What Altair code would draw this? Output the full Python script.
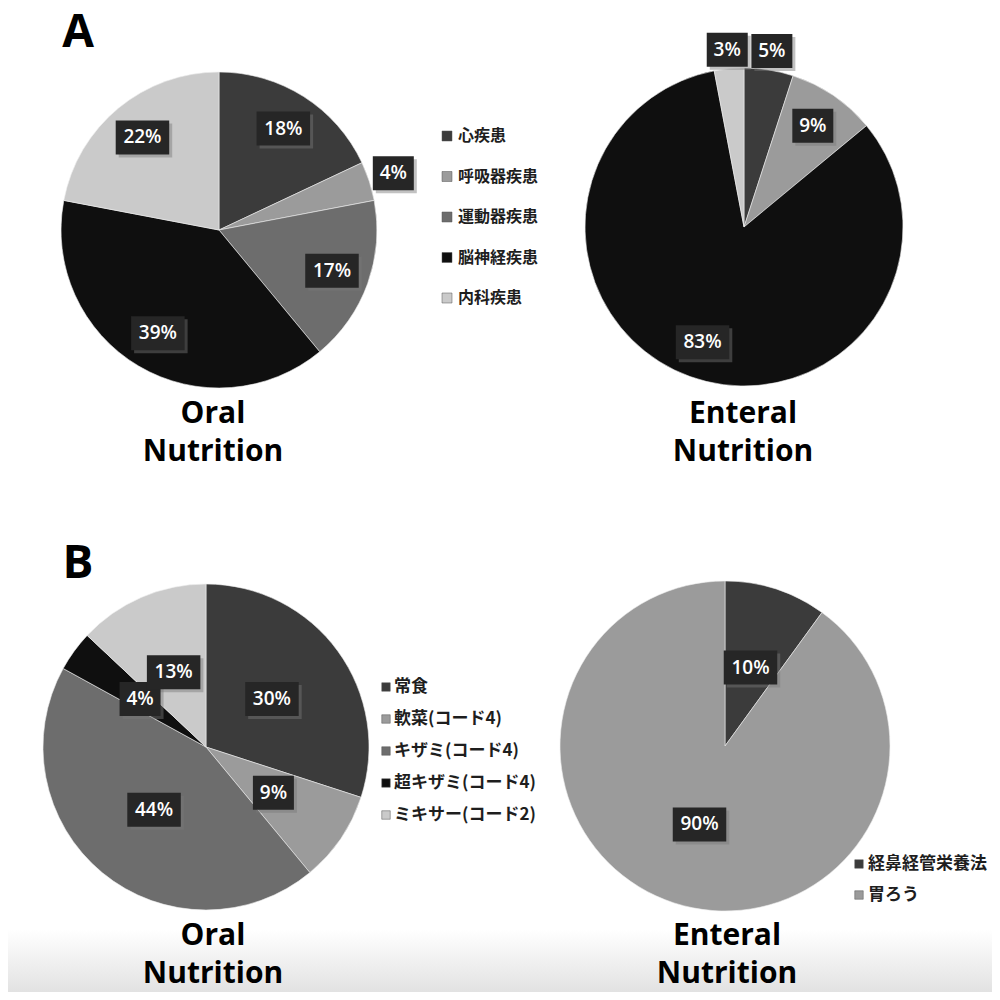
import math
import altair as alt
import pandas as pd

# ---------------- data ----------------
a_cats = ["心疾患", "呼吸器疾患", "運動器疾患", "脳神経疾患", "内科疾患"]
a_oral = [18, 4, 17, 39, 22]
a_enteral = [5, 9, 0, 83, 3]

b_oral_cats = ["常食", "軟菜(コード4)", "キザミ(コード4)", "超キザミ(コード4)", "ミキサー(コード2)"]
b_oral = [30, 9, 44, 4, 13]

b_ent_cats = ["経鼻経管栄養法", "胃ろう"]
b_enteral = [10, 90]

titles = [["Oral", "Nutrition"], ["Enteral", "Nutrition"], ["Oral", "Nutrition"], ["Enteral", "Nutrition"]]
panel_letters = ["A", "B"]

# ---------------- styles ----------------
five_greys = ["#3b3b3b", "#9b9b9b", "#6d6d6d", "#0f0f0f", "#cacaca"]
two_greys = ["#3b3b3b", "#9b9b9b"]

OFF = 8  # page margin
W = H = 984

# pie layout (screen coords): cx, cy, r, inner label radius frac, outer frac, outside threshold
pies = [
    dict(cats=a_cats, vals=a_oral, cols=five_greys, cx=219, cy=230, r=158, rin=0.76, rout=1.16, th=5),
    dict(cats=a_cats, vals=a_enteral, cols=five_greys, cx=744, cy=227, r=159, rin=0.77, rout=1.12, th=5),
    dict(cats=b_oral_cats, vals=b_oral, cols=five_greys, cx=206, cy=747, r=163, rin=0.5, rout=0.5, th=0),
    dict(cats=b_ent_cats, vals=b_enteral, cols=two_greys, cx=725, cy=746, r=165, rin=0.5, rout=0.5, th=0),
]
title_pos = [(213, 423), (743, 423), (213, 945), (727, 945)]
title_lh = 38
letter_pos = [(78, 47), (78, 578)]

legends = [
    dict(cats=a_cats, cols=five_greys, sx=447, tx=458, y0=136, dy=40.5, size=100, fs=16),
    dict(cats=b_oral_cats, cols=five_greys, sx=386, tx=394, y0=687, dy=32, size=72, fs=17),
    dict(cats=b_ent_cats, cols=two_greys, sx=859, tx=868, y0=864, dy=31, size=72, fs=17),
]

XS = alt.Scale(domain=[0, W], range=[0, W])
YS = alt.Scale(domain=[0, H], range=[0, H])


def X(f):
    return alt.X(f"{f}:Q", scale=XS, axis=None)


def Y(f):
    return alt.Y(f"{f}:Q", scale=YS, axis=None)


layers = []

# bottom background gradient
grad = alt.LinearGradient(
    gradient="linear", x1=0, x2=0, y1=0, y2=1,
    stops=[alt.GradientStop(color="#ffffff", offset=0), alt.GradientStop(color="#e2e2e2", offset=1)],
)
layers.append(
    alt.Chart(pd.DataFrame({"a": [0]})).mark_rect(color=grad).encode(
        x=alt.value(0), x2=alt.value(W), y=alt.value(930 - OFF), y2=alt.value(H)
    )
)

label_rows = []
for p in pies:
    rows = []
    for i, (c, v, col) in enumerate(zip(p["cats"], p["vals"], p["cols"])):
        if v > 0:
            rows.append({"cat": c, "val": v, "color": col, "idx": i})
    df = pd.DataFrame(rows)
    layers.append(
        alt.Chart(df).mark_arc(outerRadius=p["r"], stroke="#eeeeee", strokeWidth=0.6).encode(
            theta=alt.Theta("val:Q", stack=True, scale=alt.Scale(domain=[0, 100])),
            order=alt.Order("idx:Q", sort="ascending"),
            color=alt.Color("color:N", scale=None),
            x=alt.value(p["cx"] - OFF),
            y=alt.value(p["cy"] - OFF),
        )
    )
    total = float(sum(p["vals"]))
    cum = 0.0
    for r_ in rows:
        v = r_["val"]
        a = (cum + v / 2) / total * 2 * math.pi
        cum += v
        frac = p["rout"] if v <= p["th"] else p["rin"]
        R = p["r"] * frac
        x = p["cx"] + R * math.sin(a) - OFF
        y = p["cy"] - R * math.cos(a) - OFF
        txt = f"{v}%"
        w = 16 + 12.5 * len(txt)
        h = 34
        label_rows.append({"x": x, "y": y, "txt": txt,
                           "x1": x - w / 2, "x2": x + w / 2, "y1": y - h / 2, "y2": y + h / 2,
                           "sx1": x - w / 2 + 3, "sx2": x + w / 2 + 3, "sy1": y - h / 2 + 3, "sy2": y + h / 2 + 3})

ldf = pd.DataFrame(label_rows)
layers.append(
    alt.Chart(ldf).mark_rect(color="#777777", opacity=0.45).encode(
        x=X("sx1"), x2="sx2", y=Y("sy1"), y2="sy2"
    )
)
layers.append(
    alt.Chart(ldf).mark_rect(color="#262626").encode(
        x=X("x1"), x2="x2", y=Y("y1"), y2="y2"
    )
)
layers.append(
    alt.Chart(ldf).mark_text(color="white", font="Open Sans", fontSize=19, fontWeight=600,
                             baseline="middle", align="center").encode(
        x=X("x"), y=Y("y"), text="txt:N"
    )
)

# legends
leg_rows = []
for lg in legends:
    for i, (c, col) in enumerate(zip(lg["cats"], lg["cols"])):
        y = lg["y0"] + i * lg["dy"] - OFF
        leg_rows.append({"sx": lg["sx"] - OFF, "tx": lg["tx"] - OFF, "y": y, "cat": c,
                         "color": col, "size": lg["size"], "fs": lg["fs"]})
gdf = pd.DataFrame(leg_rows)
layers.append(
    alt.Chart(gdf).mark_square(opacity=1, stroke="#555555", strokeWidth=0.5).encode(
        x=X("sx"), y=Y("y"), color=alt.Color("color:N", scale=None),
        size=alt.Size("size:Q", scale=None)
    )
)
layers.append(
    alt.Chart(gdf).mark_text(font="Noto Sans CJK JP", fontWeight="bold", color="#1e1e1e",
                             align="left", baseline="middle").encode(
        x=X("tx"), y=Y("y"), text="cat:N", size=alt.Size("fs:Q", scale=None)
    )
)

# titles
t_rows = []
for (tx, ty), lines in zip(title_pos, titles):
    for j, line in enumerate(lines):
        t_rows.append({"x": tx - OFF, "y": ty + j * title_lh - OFF, "t": line})
tdf = pd.DataFrame(t_rows)
layers.append(
    alt.Chart(tdf).mark_text(font="Open Sans", fontWeight="bold", fontSize=30, color="#000000",
                             align="center", baseline="alphabetic").encode(
        x=X("x"), y=Y("y"), text="t:N"
    )
)

# panel letters
pdf = pd.DataFrame({"x": [p[0] - OFF for p in letter_pos], "y": [p[1] - OFF for p in letter_pos],
                    "t": panel_letters})
layers.append(
    alt.Chart(pdf).mark_text(font="Open Sans", fontWeight="bold", fontSize=46, color="#000000",
                             align="center", baseline="alphabetic").encode(
        x=X("x"), y=Y("y"), text="t:N"
    )
)

chart = alt.layer(*layers).properties(
    width=W, height=H, padding=0, autosize=alt.AutoSizeParams(type="none")
).configure_view(stroke=None)

chart.save("out.html", embed_options={"renderer": "svg", "actions": False})
